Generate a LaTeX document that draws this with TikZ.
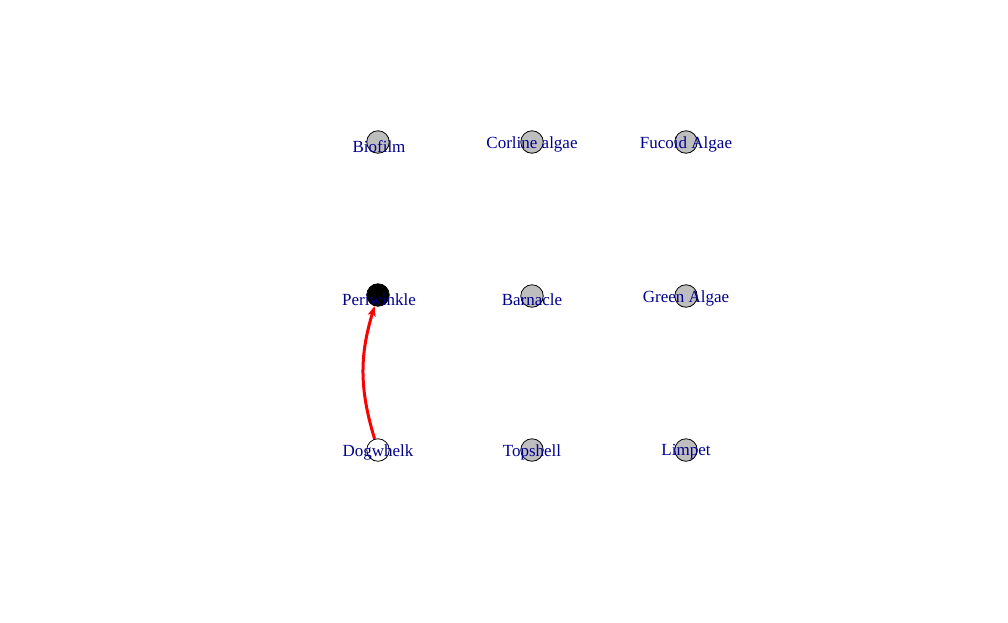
\documentclass[tikz,border=0pt]{standalone}
\usepackage{fontspec}
\setmainfont{Liberation Serif}
\usetikzlibrary{arrows.meta}
\definecolor{labcol}{RGB}{0,0,139}
\definecolor{fillcol}{RGB}{190,190,190}
\definecolor{arcol}{RGB}{255,0,0}
\tikzset{species/.style={circle,draw,line width=0.8pt,inner sep=0pt,minimum size=22.5pt,fill=fillcol}}
\tikzset{lab/.style={text=labcol,font=\fontsize{17}{17}\selectfont,inner sep=0pt}}
\tikzset{feed/.style={arcol,line width=3pt,-{Stealth[length=10pt,width=8pt,inset=2.5pt]}}}

\begin{document}
\begin{tikzpicture}[x=1pt,y=-1pt]
\useasboundingbox (0,0) rectangle (1008,622);

\node [species] (bio) at (378,142) {};
\node [species] (cor) at (532,142) {};
\node [species] (fuc) at (686,142) {};

\node [species,fill=black] (per) at (378,295) {};
\node [species] (bar) at (532,296) {};
\node [species] (gre) at (686,296) {};

\node [species,fill=white] (dog) at (378,450) {};
\node [species] (top) at (532,450) {};
\node [species] (lim) at (686,450) {};

\draw [feed] (dog) to[bend left=17] (per);

\node [lab] (bio_) at (379,147) {Biofilm};
\node [lab] (cor_) at (532,144) {Corline algae};
\node [lab] (fuc_) at (686,144) {Fucoid Algae};
\node [lab] (per_) at (379,300) {Periwinkle};
\node [lab] (bar_) at (532,300) {Barnacle};
\node [lab] (gre_) at (686,298) {Green Algae};
\node [lab] (dog_) at (378,452) {Dogwhelk};
\node [lab] (top_) at (532,452) {Topshell};
\node [lab] (lim_) at (686,452) {Limpet};
\end{tikzpicture}
\end{document}
